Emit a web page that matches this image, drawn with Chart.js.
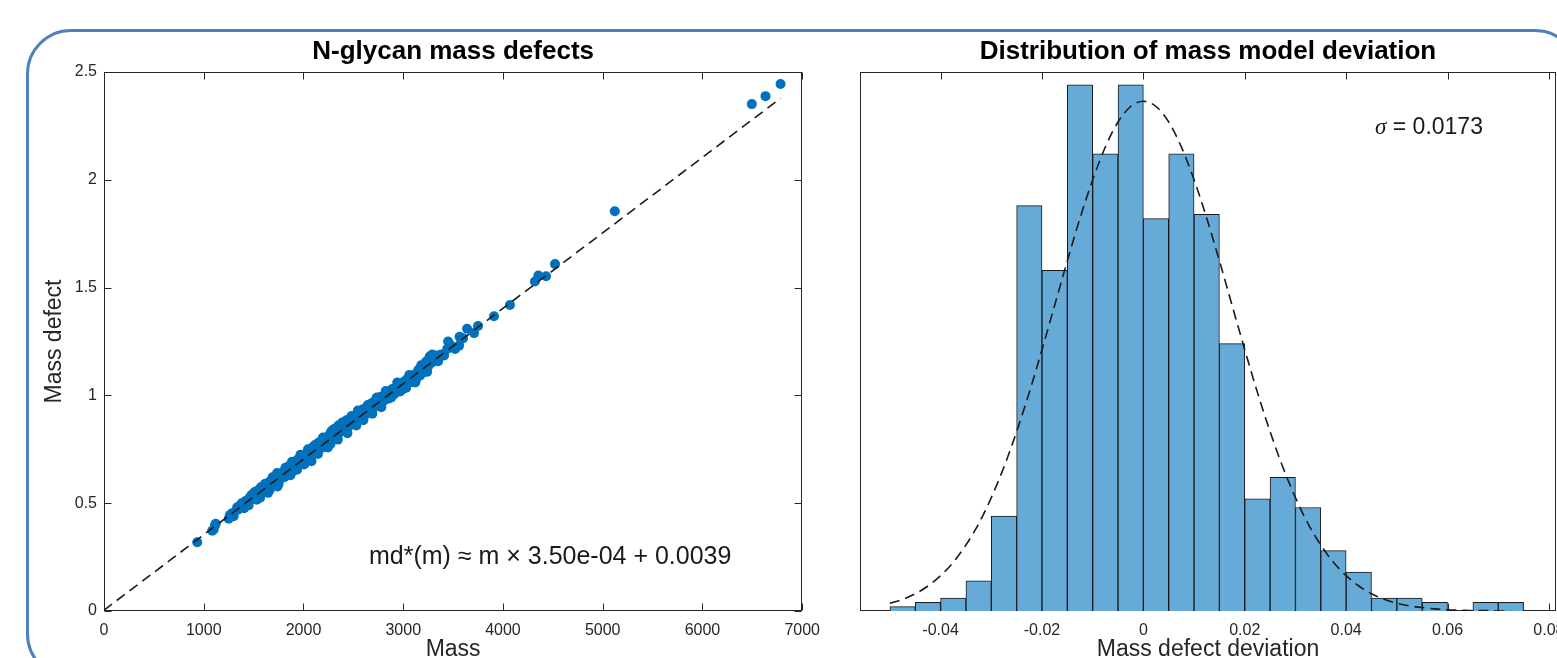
<!DOCTYPE html>
<html>
<head>
<meta charset="utf-8">
<script src="https://cdn.jsdelivr.net/npm/chart.js@4.4.1/dist/chart.umd.min.js"></script>
<style>
  html, body { margin: 0; padding: 0; background: #ffffff; overflow: hidden; width: 1557px; height: 658px; }
  #frame { position: absolute; left: 26px; top: 29px; width: 1554px; height: 650px; box-sizing: border-box;
           border: 3px solid #4f81bd; border-radius: 45px; }
  #massChart { position: absolute; left: 0; top: 0; }
  #devChart { position: absolute; left: 830px; top: 0; }
</style>
</head>
<body>
<div id="frame"></div>
<canvas id="massChart" width="830" height="675"></canvas>
<canvas id="devChart" width="770" height="675"></canvas>
<script>
// ---------------- Data: left panel (scatter of mass defects) ----------------
const massValues = [
  935, 1085, 1100, 1112, 1250, 1262, 1290, 1335, 1342, 1405,
  1418, 1432, 1470, 1478, 1500, 1520, 1530, 1548, 1555, 1570,
  1575, 1590, 1605, 1620, 1635, 1650, 1660, 1662, 1680, 1700,
  1712, 1720, 1725, 1740, 1755, 1770, 1785, 1790, 1800, 1812,
  1825, 1838, 1845, 1850, 1862, 1878, 1890, 1900, 1905, 1915,
  1928, 1940, 1952, 1960, 1965, 1978, 1990, 2000, 2012, 2020,
  2025, 2038, 2050, 2062, 2070, 2075, 2088, 2100, 2110, 2125,
  2130, 2138, 2150, 2162, 2175, 2180, 2188, 2200, 2212, 2225,
  2230, 2238, 2250, 2262, 2275, 2280, 2288, 2300, 2312, 2325,
  2330, 2338, 2350, 2362, 2375, 2380, 2388, 2400, 2415, 2420,
  2430, 2445, 2460, 2470, 2475, 2490, 2505, 2520, 2520, 2535,
  2550, 2565, 2570, 2580, 2595, 2610, 2620, 2625, 2640, 2655,
  2660, 2670, 2685, 2700, 2715, 2720, 2730, 2745, 2760, 2760,
  2775, 2790, 2800, 2810, 2830, 2850, 2860, 2870, 2890, 2910,
  2920, 2930, 2950, 2970, 2980, 2990, 3010, 3030, 3040, 3050,
  3070, 3090, 3100, 3110, 3130, 3150, 3160, 3170, 3190, 3210,
  3220, 3230, 3250, 3265, 3280, 3300, 3330, 3350, 3380, 3440,
  3450, 3560, 3565, 3640, 3710, 3750, 3910, 4070, 4320, 4355,
  4432, 4522, 5121, 6495, 6632, 6783,
  1120, 1380, 1450, 1510, 1565, 1615, 1645, 1690, 1735, 1750,
  1820, 1870, 1885, 1935, 1970, 2005, 2045, 2080, 2115, 2145,
  2195, 2245, 2270, 2290, 2345, 2395, 2440, 2485, 2530, 2545,
  2600, 2645, 2690, 2735, 2780, 2825, 2880, 2940, 3000, 3060,
  3120, 3180, 3240, 3290, 3320, 3410, 3470, 3520, 3600, 2010,
  2160, 2310, 2460, 1800, 1950, 2100, 2250, 2400, 2550, 2700,
  2850, 3000, 1660, 1560, 1460, 1360, 1300
];
const defectValues = [
  0.319, 0.372, 0.378, 0.397, 0.428, 0.445, 0.455, 0.481, 0.470, 0.477,
  0.510, 0.497, 0.518, 0.538, 0.522, 0.544, 0.516, 0.561, 0.532, 0.548,
  0.575, 0.570, 0.552, 0.578, 0.571, 0.590, 0.600, 0.562, 0.596, 0.611,
  0.586, 0.605, 0.622, 0.578, 0.612, 0.632, 0.617, 0.640, 0.648, 0.622,
  0.650, 0.630, 0.645, 0.671, 0.640, 0.659, 0.683, 0.652, 0.675, 0.690,
  0.672, 0.701, 0.677, 0.690, 0.714, 0.692, 0.719, 0.700, 0.684, 0.712,
  0.727, 0.713, 0.742, 0.708, 0.722, 0.735, 0.758, 0.729, 0.747, 0.766,
  0.755, 0.744, 0.780, 0.752, 0.771, 0.782, 0.795, 0.760, 0.788, 0.803,
  0.790, 0.776, 0.812, 0.796, 0.830, 0.812, 0.801, 0.822, 0.845, 0.812,
  0.826, 0.835, 0.860, 0.828, 0.850, 0.840, 0.874, 0.842, 0.862, 0.848,
  0.885, 0.851, 0.872, 0.880, 0.898, 0.866, 0.880, 0.903, 0.885, 0.888,
  0.925, 0.900, 0.910, 0.915, 0.936, 0.905, 0.918, 0.930, 0.950, 0.921,
  0.940, 0.947, 0.965, 0.940, 0.962, 0.955, 0.985, 0.956, 0.978, 0.965,
  0.994, 0.968, 0.975, 0.992, 1.015, 0.985, 1.000, 1.008, 1.030, 1.005,
  1.032, 1.022, 1.046, 1.018, 1.050, 1.040, 1.064, 1.036, 1.076, 1.058,
  1.085, 1.062, 1.080, 1.096, 1.074, 1.118, 1.104, 1.092, 1.126, 1.108,
  1.125, 1.157, 1.135, 1.180, 1.150, 1.172, 1.185, 1.158, 1.190, 1.215,
  1.250, 1.231, 1.272, 1.309, 1.289, 1.322, 1.367, 1.419, 1.528, 1.556,
  1.553, 1.609, 1.854, 2.351, 2.388, 2.444,
  0.405, 0.500, 0.490, 0.552, 0.525, 0.590, 0.548, 0.620, 0.640, 0.590,
  0.665, 0.630, 0.692, 0.655, 0.725, 0.680, 0.750, 0.695, 0.770, 0.728,
  0.805, 0.758, 0.775, 0.838, 0.795, 0.870, 0.825, 0.905, 0.860, 0.930,
  0.885, 0.955, 0.915, 0.990, 0.945, 1.020, 0.990, 1.060, 1.030, 1.095,
  1.060, 1.140, 1.110, 1.190, 1.160, 1.185, 1.235, 1.215, 1.265, 0.725,
  0.770, 0.820, 0.860, 0.625, 0.705, 0.745, 0.795, 0.858, 0.905, 0.955,
  1.000, 1.060, 0.580, 0.555, 0.525, 0.485, 0.440
];
// dashed model line md*(m), end points
const fitLineMass = [0, 6783];
const fitLineDefect = [0.0039, 2.378];

const massTicks = [0, 1000, 2000, 3000, 4000, 5000, 6000, 7000];
const massTickLabels = ['0', '1000', '2000', '3000', '4000', '5000', '6000', '7000'];
const defectTicks = [0, 0.5, 1, 1.5, 2, 2.5];
const defectTickLabels = ['0', '0.5', '1', '1.5', '2', '2.5'];

// ---------------- Data: right panel (histogram of deviations) ----------------
const binCenters = [
  -0.0475, -0.0425, -0.0375, -0.0325, -0.0275, -0.0225, -0.0175, -0.0125, -0.0075, -0.0025,
   0.0025,  0.0075,  0.0125,  0.0175,  0.0225,  0.0275,  0.0325,  0.0375,  0.0425,  0.0475,
   0.0525,  0.0575,  0.0625,  0.0675,  0.0725
];
const binCounts = [
  1, 2, 3, 7, 22, 94, 79, 122, 106, 122,
  91, 106, 92, 62, 26, 31, 24, 14, 9, 3,
  3, 2, 0, 2, 2
];
// dashed normal fit (same units as counts)
const fitCurveX = [
  -0.05, -0.0475, -0.045, -0.0425, -0.04, -0.0375, -0.035, -0.0325, -0.03, -0.0275,
  -0.025, -0.0225, -0.02, -0.0175, -0.015, -0.0125, -0.01, -0.0075, -0.005, -0.0025,
   0, 0.0025, 0.005, 0.0075, 0.01, 0.0125, 0.015, 0.0175, 0.02, 0.0225,
   0.025, 0.0275, 0.03, 0.0325, 0.035, 0.0375, 0.04, 0.0425, 0.045, 0.0475,
   0.05, 0.0525, 0.055, 0.0575, 0.06, 0.0625, 0.065, 0.0675, 0.07, 0.0725
];
const fitCurveY = [
  1.8, 2.7, 4.0, 5.8, 8.2, 11.3, 15.3, 20.2, 26.3, 33.4,
  41.6, 50.7, 60.6, 70.9, 81.2, 91.1, 100.0, 107.6, 113.4, 117.0,
  118.2, 117.0, 113.4, 107.6, 100.0, 91.1, 81.2, 70.9, 60.6, 50.7,
  41.6, 33.4, 26.3, 20.2, 15.3, 11.3, 8.2, 5.8, 4.0, 2.7,
  1.8, 1.2, 0.8, 0.5, 0.3, 0.2, 0.1, 0.1, 0.0, 0.0
];
const devTicks = [-0.04, -0.02, 0, 0.02, 0.04, 0.06, 0.08];
const devTickLabels = ['-0.04', '-0.02', '0', '0.02', '0.04', '0.06', '0.08'];

// ---------------- Texts ----------------
const leftTitle = 'N-glycan mass defects';
const rightTitle = 'Distribution of mass model deviation';
const leftXLabel = 'Mass';
const leftYLabel = 'Mass defect';
const rightXLabel = 'Mass defect deviation';
const leftNote = { x: 2656, y: 0.25, parts: [{ text: 'md*(m) \u2248 m \u00d7 3.50e-04 + 0.0039', font: "25px 'Liberation Sans', Arial, sans-serif" }] };
const rightNote = { x: 0.0457, y: 112, parts: [
  { text: '\u03c3', font: "italic 23px 'Liberation Serif', 'Times New Roman', serif" },
  { text: ' = 0.0173', font: "23px 'Liberation Sans', Arial, sans-serif" }
] };

// ---------------- Styling helpers ----------------
const FONT = "'Liberation Sans', Arial, Helvetica, sans-serif";
const AXIS_COLOR = '#262626';

function axesPlugin(id, withYTicks) {
  return {
    id: id,
    beforeDatasetsDraw(chart) {
      const { ctx, chartArea: a } = chart;
      const L = Math.round(a.left) + 0.5, R = Math.round(a.right) - 0.5;
      const T = Math.round(a.top) + 0.5, B = Math.round(a.bottom) - 0.5;
      ctx.save();
      ctx.strokeStyle = AXIS_COLOR;
      ctx.lineWidth = 1;
      ctx.strokeRect(L, T, R - L, B - T);
      const tl = 7;
      ctx.beginPath();
      const xs = chart.scales.x;
      xs.ticks.forEach(t => {
        const px = Math.round(xs.getPixelForValue(t.value)) + 0.5;
        ctx.moveTo(px, B); ctx.lineTo(px, B - tl);
        ctx.moveTo(px, T); ctx.lineTo(px, T + tl);
      });
      if (withYTicks) {
        const ys = chart.scales.y;
        ys.ticks.forEach(t => {
          const py = Math.round(ys.getPixelForValue(t.value)) + 0.5;
          ctx.moveTo(L, py); ctx.lineTo(L + tl, py);
          ctx.moveTo(R, py); ctx.lineTo(R - tl, py);
        });
      }
      ctx.stroke();
      ctx.restore();
    }
  };
}

function notePlugin(id, note) {
  return {
    id: id,
    afterDraw(chart) {
      const { ctx } = chart;
      let x = chart.scales.x.getPixelForValue(note.x);
      const y = chart.scales.y.getPixelForValue(note.y);
      ctx.save();
      ctx.fillStyle = '#1a1a1a';
      ctx.textBaseline = 'middle';
      ctx.textAlign = 'left';
      note.parts.forEach(p => {
        ctx.font = p.font;
        ctx.fillText(p.text, x, y);
        x += ctx.measureText(p.text).width;
      });
      ctx.restore();
    }
  };
}

const titleOpts = (text) => ({
  display: true, text: text, fullSize: false, color: '#000000',
  font: { family: FONT, size: 26, weight: 'bold', lineHeight: 1.2 },
  padding: { top: 36.4, bottom: 4.4 }
});

// ---------------- Left chart ----------------
new Chart(document.getElementById('massChart'), {
  type: 'scatter',
  data: {
    datasets: [
      {
        type: 'line',
        data: fitLineMass.map((m, i) => ({ x: m, y: fitLineDefect[i] })),
        borderColor: '#1a1a1a', borderWidth: 1.6, borderDash: [10, 6],
        pointRadius: 0, fill: false, tension: 0
      },
      {
        data: massValues.map((m, i) => ({ x: m, y: defectValues[i] })),
        backgroundColor: '#0072BD', borderWidth: 0, pointRadius: 5, pointHoverRadius: 5
      }
    ]
  },
  options: {
    responsive: false, animation: false, events: [],
    layout: { padding: { left: 0, right: 25, top: 0, bottom: 0 } },
    plugins: { legend: { display: false }, tooltip: { enabled: false }, title: titleOpts(leftTitle) },
    scales: {
      x: {
        type: 'linear', min: 0, max: 7000,
        afterBuildTicks: s => { s.ticks = massTicks.map(v => ({ value: v })); },
        afterFit: s => { s.height = 64; },
        grid: { display: false, drawTicks: false }, border: { display: false },
        ticks: { padding: 10, color: AXIS_COLOR, font: { family: FONT, size: 16 }, maxRotation: 0,
                 callback: (v, i) => massTickLabels[i] },
        title: { display: true, text: leftXLabel, color: AXIS_COLOR,
                 font: { family: FONT, size: 23, lineHeight: 1.2 }, padding: { top: 0, bottom: 12 } }
      },
      y: {
        type: 'linear', min: 0, max: 2.5,
        afterBuildTicks: s => { s.ticks = defectTicks.map(v => ({ value: v })); },
        afterFit: s => { s.width = 104; },
        grid: { display: false, drawTicks: false }, border: { display: false },
        ticks: { padding: 7, color: AXIS_COLOR, font: { family: FONT, size: 16 },
                 callback: (v, i) => defectTickLabels[i] },
        title: { display: true, text: leftYLabel, color: AXIS_COLOR,
                 font: { family: FONT, size: 23, lineHeight: 1.2 }, padding: { top: 41, bottom: 0 } }
      }
    }
  },
  plugins: [axesPlugin('boxLeft', true), notePlugin('noteLeft', leftNote)]
});

// ---------------- Right chart ----------------
new Chart(document.getElementById('devChart'), {
  type: 'bar',
  data: {
    datasets: [
      {
        type: 'line',
        data: fitCurveX.map((x, i) => ({ x: x, y: fitCurveY[i] })),
        borderColor: '#1a1a1a', borderWidth: 1.6, borderDash: [10, 6],
        pointRadius: 0, fill: false, cubicInterpolationMode: 'monotone'
      },
      {
        type: 'bar',
        data: binCenters.map((x, i) => ({ x: x, y: binCounts[i] })),
        backgroundColor: '#66AAD7', borderColor: '#1a1a1a', borderWidth: 1,
        barPercentage: 1, categoryPercentage: 1
      }
    ]
  },
  options: {
    responsive: false, animation: false, events: [],
    layout: { padding: { left: 30, right: 44, top: 0, bottom: 0 } },
    plugins: { legend: { display: false }, tooltip: { enabled: false }, title: titleOpts(rightTitle) },
    scales: {
      x: {
        type: 'linear', min: -0.0559, max: 0.0814, offset: false,
        afterBuildTicks: s => { s.ticks = devTicks.map(v => ({ value: v })); },
        afterFit: s => { s.height = 64; },
        grid: { display: false, drawTicks: false, offset: false }, border: { display: false },
        ticks: { padding: 10, color: AXIS_COLOR, font: { family: FONT, size: 16 }, maxRotation: 0,
                 callback: (v, i) => devTickLabels[i] },
        title: { display: true, text: rightXLabel, color: AXIS_COLOR,
                 font: { family: FONT, size: 23, lineHeight: 1.2 }, padding: { top: 0, bottom: 12 } }
      },
      y: {
        type: 'linear', min: 0, max: 125, display: false
      }
    }
  },
  plugins: [axesPlugin('boxRight', false), notePlugin('noteRight', rightNote)]
});
</script>
</body>
</html>
